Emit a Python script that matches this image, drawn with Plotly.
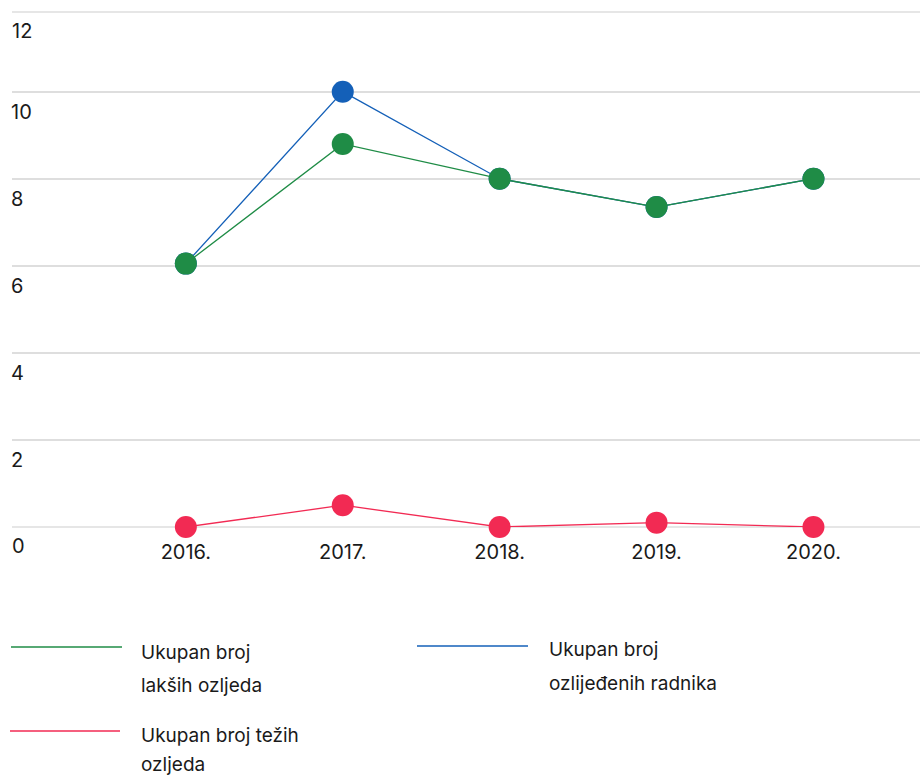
import plotly.graph_objects as go

# ---- data ----
years = ["2016.", "2017.", "2018.", "2019.", "2020."]
lakse_ozljede = [6.05, 8.8, 8.0, 7.35, 8.0]
ozlijedeni_radnici = [6.05, 10.0, 8.0, 7.35, 8.0]
teze_ozljede = [0.0, 0.5, 0.0, 0.1, 0.0]
y_ticks = [0, 2, 4, 6, 8, 10]
y_edge_labels = ["0", "12"]

names = {
    "lakse": ["Ukupan broj", "lakših ozljeda"],
    "radnici": ["Ukupan broj", "ozlijeđenih radnika"],
    "teze": ["Ukupan broj težih", "ozljeda"],
}
colors = {"lakse": "#1f8c46", "radnici": "#1460b8", "teze": "#f22a53"}

W, H = 920, 776
ML, MR, MT, MB = 12, 0, 12, 249
PW, PH = W - ML - MR, H - MT - MB
FONT = "Inter, Liberation Sans, Arial, sans-serif"
TXT = "#1a1a1a"
GRID = "#dedede"


def px(x):
    return (x - ML) / PW


def py(y):
    return (H - MB - y) / PH


fig = go.Figure()
for key, vals in [("radnici", ozlijedeni_radnici), ("lakse", lakse_ozljede), ("teze", teze_ozljede)]:
    fig.add_trace(go.Scatter(
        x=years, y=vals, mode="lines+markers",
        name=" ".join(names[key]),
        line=dict(color=colors[key], width=1.3),
        marker=dict(color=colors[key], size=22),
        cliponaxis=False, showlegend=False,
    ))

fig.update_layout(
    width=W, height=H,
    margin=dict(l=ML, r=MR, t=MT, b=MB),
    paper_bgcolor="white", plot_bgcolor="white",
    font=dict(family=FONT, color=TXT, size=19),
    xaxis=dict(
        type="category", range=[-1.108, 4.679],
        showgrid=False, zeroline=False, showline=False, ticks="",
        tickfont=dict(size=20, family=FONT, color=TXT),
        ticklabelstandoff=11,
    ),
    yaxis=dict(
        range=[0, 11.83], tickvals=y_ticks,
        showgrid=True, gridcolor=GRID, gridwidth=1.5,
        zeroline=False, showline=False, ticks="",
        ticklabelposition="inside", ticklabelshift=20, ticklabelstandoff=-4,
        tickfont=dict(size=20, family=FONT, color=TXT),
    ),
)

# grid lines and labels at the two edges of the plot area (0 and top)
for yp, lab in zip([0, 1], y_edge_labels):
    fig.add_shape(type="line", xref="paper", yref="paper", x0=0, x1=1, y0=yp, y1=yp,
                  line=dict(color=GRID, width=1.5), layer="below")
    fig.add_annotation(xref="paper", yref="paper", x=0, y=yp, xanchor="left", yanchor="middle",
                       xshift=-2, yshift=-19, text=lab, showarrow=False,
                       font=dict(size=20, family=FONT, color=TXT))

# custom legend
legend_items = [
    ("lakse", 11, 122, 647, 139, [652, 685]),
    ("radnici", 417, 528, 646, 547, [649, 683]),
    ("teze", 10, 120, 731, 139, [735, 764]),
]
for key, lx0, lx1, ly, tx, tys in legend_items:
    fig.add_shape(type="line", xref="paper", yref="paper",
                  x0=px(lx0), x1=px(lx1), y0=py(ly), y1=py(ly),
                  line=dict(color=colors[key], width=1.3))
    for line_text, ty in zip(names[key], tys):
        fig.add_annotation(xref="paper", yref="paper", x=px(tx), y=py(ty),
                           xanchor="left", yanchor="middle", text=line_text,
                           showarrow=False, font=dict(size=19, family=FONT, color=TXT))

fig.write_html("out.html", config={"displayModeBar": False},
               post_script="document.body.style.margin='0';document.body.style.overflow='hidden';")
